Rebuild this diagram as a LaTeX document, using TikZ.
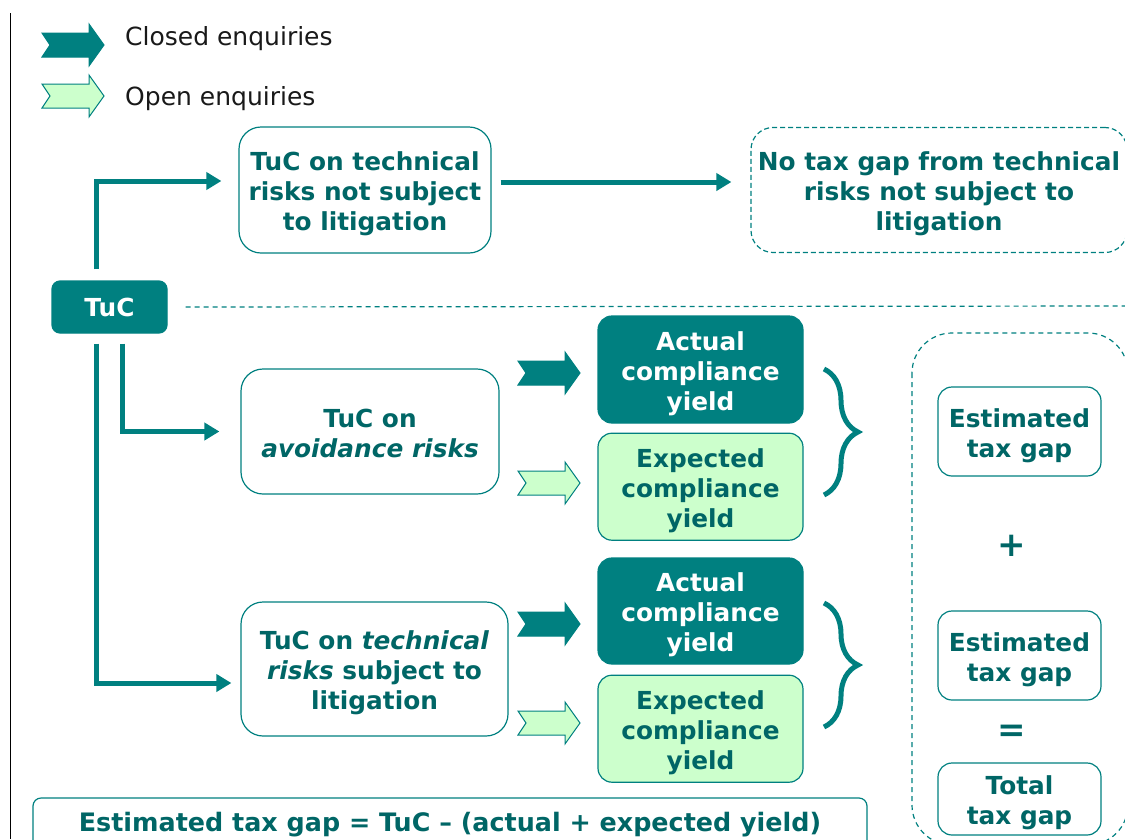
\documentclass[tikz,border=0pt]{standalone}
\usepackage{fontspec}
\setmainfont{DejaVu Sans}
\usetikzlibrary{arrows.meta, positioning, decorations.pathreplacing}

\definecolor{tealline}{RGB}{0,128,128}
\definecolor{tealtext}{RGB}{0,102,102}
\definecolor{paleGreen}{RGB}{204,255,204}

\newcommand{\cellfont}{\fontsize{24.8}{30}\selectfont\bfseries}
\newcommand{\keyfont}{\fontsize{25}{30}\selectfont}
% even out the first and last line of a cell
\newcommand{\cs}{\rule{0pt}{27pt}}
\newcommand{\ce}{\rule[-6pt]{0pt}{6pt}}

\tikzset{
	riskbox/.style={
		rectangle,
		rounded corners=22pt,
		draw=tealline,
		line width=1.2pt,
		fill=white,
		text=tealtext,
		font=\cellfont,
		align=center,
		inner sep=0pt
	},
	nogapbox/.style={riskbox, dash pattern=on 5pt off 3pt},
	tucbox/.style={riskbox, rounded corners=8pt, fill=tealline, text=white},
	closedbox/.style={riskbox, rounded corners=14pt, fill=tealline, text=white},
	openbox/.style={riskbox, rounded corners=14pt, fill=paleGreen},
	gapbox/.style={riskbox, rounded corners=14pt},
	sign/.style={text=tealtext, font=\fontsize{34}{34}\selectfont\bfseries},
	keytext/.style={text=black!90, font=\keyfont, inner sep=0pt},
	flow/.style={line width=5pt, draw=tealline, -{Triangle[length=15pt,width=17pt]}},
	sepline/.style={draw=tealline, line width=1.2pt, dash pattern=on 5pt off 4pt},
	sumbrace/.style={decorate, decoration={brace, amplitude=34pt}, line width=5pt, draw=tealline},
	closedarrow/.style={fill=tealline, draw=tealline, line width=1pt},
	openarrow/.style={fill=paleGreen, draw=tealline, line width=1pt},
	blockarrow/.pic={
		\path[pic actions] (0,-12) -- (47,-12) -- (47,-21) -- (62,0) -- (47,21)
			-- (47,12) -- (0,12) -- (8,0) -- cycle;
	}
}

\begin{document}
\begin{tikzpicture}[x=1pt, y=-1pt]
	\useasboundingbox (0,0) rectangle (1125,839);
	\clip (0,0) rectangle (1125,839);
	\draw [black, line width=1pt] (10,13) -- (10,839);

	% key
	\pic [closedarrow] at (42,45) {blockarrow};
	\pic [openarrow] at (42,96) {blockarrow};
	\node (closedkey) [keytext, anchor=base west] at (125,45) {Closed enquiries};
	\node (openkey) [keytext, anchor=base west] at (125,105) {Open enquiries};

	% risk split
	\node (tuc) [tucbox, minimum width=115pt, minimum height=52pt] at (109.5,307) {TuC};
	\node (riskA) [riskbox, minimum width=252pt, minimum height=126pt] at (365,190)
		{\cs TuC on technical\\risks not subject\\to litigation\ce};
	\node (nogap) [nogapbox, minimum width=376pt, minimum height=125pt] at (939,190)
		{\cs No tax gap from technical\\risks not subject to\\litigation\ce};
	\node (avoid) [riskbox, minimum width=258pt, minimum height=125pt] at (370,431.5)
		{\cs TuC on\\\textit{avoidance risks}\ce};
	\node (litig) [riskbox, minimum width=267pt, minimum height=134pt] at (374.5,669)
		{\cs TuC on \textit{technical}\\\textit{risks} subject to\\litigation\ce};

	\draw [flow, shorten <=11pt, shorten >=17pt] ([xshift=-13.5pt]tuc.north) |- ([yshift=9pt]riskA.west);
	\draw [flow, shorten <=10pt, shorten >=21pt] ([xshift=12.5pt]tuc.south) |- (avoid.west);
	\draw [flow, shorten <=10pt, shorten >=9pt] ([xshift=-13.5pt]tuc.south) |- ([yshift=-14pt]litig.west);
	\draw [flow, shorten <=9pt, shorten >=19pt] ([yshift=8pt]riskA.east) -- ([yshift=8pt]nogap.west);
	\draw [sepline] ([xshift=18pt]tuc.east) -- (1125,306);

	% yields
	\node (actual1) [closedbox, minimum width=205pt, minimum height=107pt] at (700.5,369.5)
		{\cs Actual\\compliance\\yield\ce};
	\node (expect1) [openbox, minimum width=205pt, minimum height=107pt, below=9pt of actual1]
		{\cs Expected\\compliance\\yield\ce};
	\node (actual2) [closedbox, minimum width=205pt, minimum height=106pt] at (700.5,611)
		{\cs Actual\\compliance\\yield\ce};
	\node (expect2) [openbox, minimum width=205pt, minimum height=107pt, below=10pt of actual2]
		{\cs Expected\\compliance\\yield\ce};

	\pic [closedarrow] at (518,373) {blockarrow};
	\pic [openarrow] at (518,483) {blockarrow};
	\pic [closedarrow] at (518,624) {blockarrow};
	\pic [openarrow] at (518,723) {blockarrow};

	\draw [sumbrace] (824,369) -- (824,495);
	\draw [sumbrace] (824,603) -- (824,727);

	% totals
	\draw [sepline, rounded corners=40pt] (912,333) rectangle (1128,845);
	\node (gap1) [gapbox, minimum width=163pt, minimum height=89pt] at (1019.5,431.5)
		{\cs Estimated\\tax gap\ce};
	\node (plus) [sign] at (1012,546) {+};
	\node (gap2) [gapbox, minimum width=163pt, minimum height=89pt] at (1019.5,655.5)
		{\cs Estimated\\tax gap\ce};
	\node (equals) [sign] at (1012,733) {=};
	\node (total) [gapbox, minimum width=163pt, minimum height=72pt] at (1019.5,799)
		{\cs Total\\tax gap\ce};

	\node (formula) [gapbox, rounded corners=8pt, minimum width=834pt, minimum height=54pt,
		font=\fontsize{25.4}{30}\selectfont\bfseries] at (450,825)
		{Estimated tax gap = TuC – (actual + expected yield)};
\end{tikzpicture}
\end{document}
